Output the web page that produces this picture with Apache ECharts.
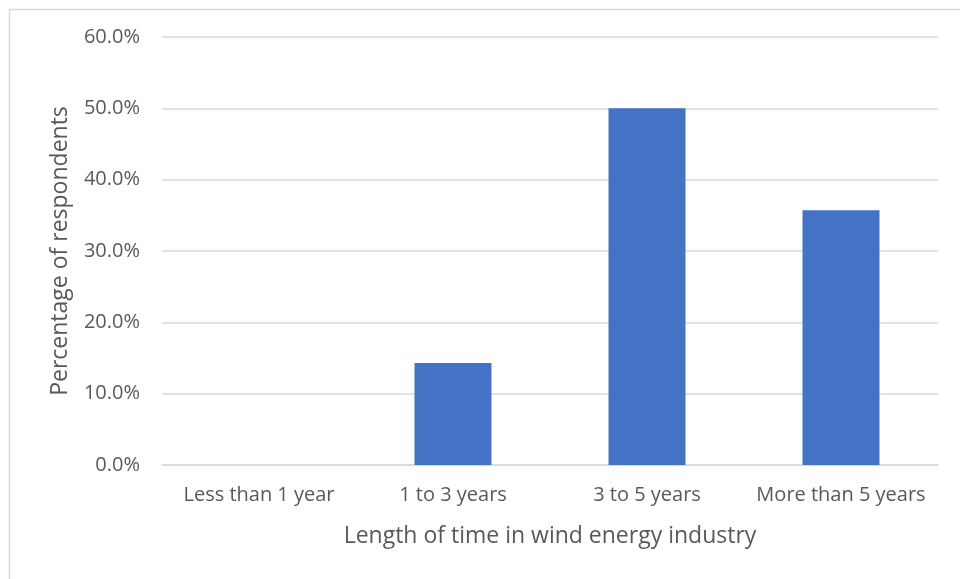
<!DOCTYPE html>
<html><head><meta charset="utf-8">
<script src="https://cdn.jsdelivr.net/npm/echarts@6/dist/echarts.min.js"></script>
<style>html,body{margin:0;padding:0;background:#fff}#c{width:960px;height:579px}</style>
</head><body><div id="c"></div>
<script>
const categories = ["Less than 1 year", "1 to 3 years", "3 to 5 years", "More than 5 years"];
const percentValues = [0, 14.3, 50.0, 35.7];
const yTicks = [0, 10, 20, 30, 40, 50, 60];
const xTitle = "Length of time in wind energy industry";
const yTitle = "Percentage of respondents";

const chart = echarts.init(document.getElementById('c'), null, {renderer: 'canvas'});
const font = '"Open Sans", "Noto Sans", sans-serif';
chart.setOption({
  animation: false,
  graphic: [{
    type: 'rect', left: 7, top: 7, silent: true,
    shape: {width: 1000, height: 1000},
    style: {fill: 'none', stroke: '#d9d9d9', lineWidth: 1.5}
  }],
  grid: {left: 162, right: 22, top: 37, bottom: 114},
  xAxis: {
    type: 'category', data: categories,
    name: xTitle, nameLocation: 'middle', nameGap: 60,
    nameTextStyle: {fontFamily: font, fontSize: 23, color: '#595959'},
    axisLine: {lineStyle: {color: '#d9d9d9', width: 1.5}},
    axisTick: {show: false},
    axisLabel: {fontFamily: font, fontSize: 20, color: '#595959', margin: 20, interval: 0}
  },
  yAxis: {
    type: 'value', min: yTicks[0], max: yTicks[yTicks.length - 1], interval: 10,
    name: yTitle, nameLocation: 'middle', nameGap: 90, nameRotate: 90,
    nameTextStyle: {fontFamily: font, fontSize: 23, color: '#595959'},
    axisLine: {show: false}, axisTick: {show: false},
    splitLine: {lineStyle: {color: '#d9d9d9', width: 1.5}},
    axisLabel: {fontFamily: font, fontSize: 20, color: '#595959', margin: 22,
      formatter: v => v.toFixed(1) + '%'}
  },
  series: [{
    type: 'bar', data: percentValues, barWidth: 77,
    itemStyle: {color: '#4472c4'}
  }]
});
</script></body></html>
